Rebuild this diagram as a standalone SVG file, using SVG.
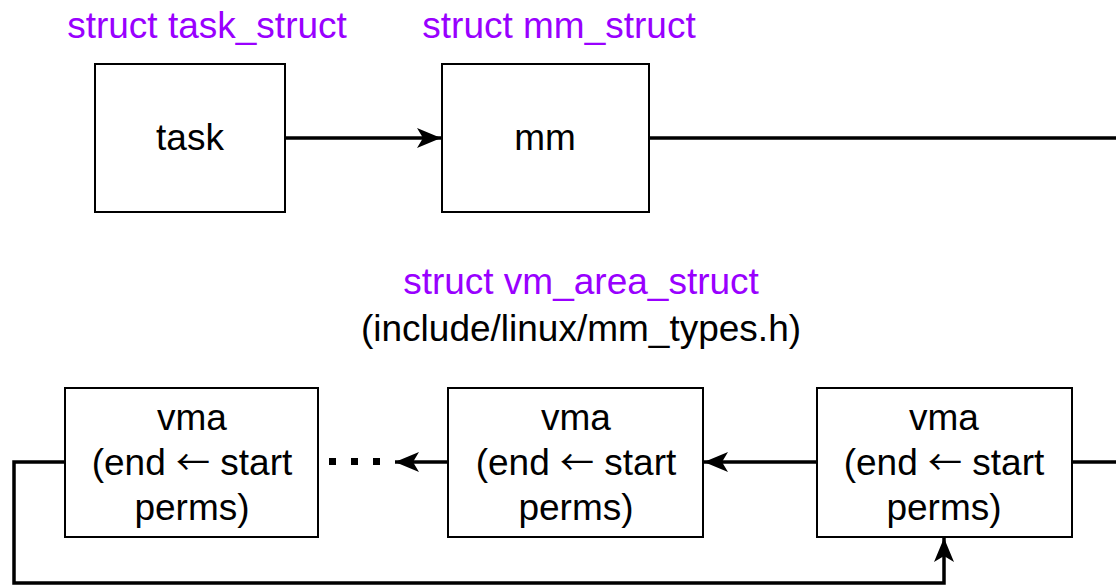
<svg xmlns="http://www.w3.org/2000/svg" width="1116" height="586" viewBox="0 0 1116 586">
<style>
.box{fill:#fff;stroke:#000;stroke-width:2}
.t{font-family:"Liberation Sans",Arial,sans-serif;font-size:37px;fill:#000;text-anchor:middle}
.a{font-family:"Noto Sans CJK SC","DejaVu Sans",sans-serif;font-size:34px}
.p{fill:#9900ff}
.c{fill:none;stroke:#000;stroke-width:3.5}
</style>
<defs>
<marker id="ah" markerUnits="userSpaceOnUse" markerWidth="26" markerHeight="22" refX="24" refY="11" orient="auto">
<path d="M0,1 L24,11 L0,21 L6,11 Z" fill="#000"/>
</marker>
</defs>
<text class="t p" x="207" y="38">struct task_struct</text>
<text class="t p" x="559" y="38">struct mm_struct</text>
<text class="t p" x="581" y="294">struct vm_area_struct</text>
<text class="t" x="581" y="341">(include/linux/mm_types.h)</text>
<g id="connectors">
<line class="c" x1="285" y1="138" x2="441" y2="138" marker-end="url(#ah)"/>
<line class="c" x1="649" y1="138" x2="1116" y2="138"/>
<line class="c" x1="1072" y1="462" x2="1116" y2="462"/>
<line class="c" x1="817" y1="462" x2="704" y2="462" marker-end="url(#ah)"/>
<line class="c" x1="448" y1="462" x2="395" y2="462" marker-end="url(#ah)"/>
<polyline class="c" points="65,462 14,462 14,583 944,583 944,538" marker-end="url(#ah)"/>
<rect x="329" y="458" width="7" height="7" fill="#000"/>
<rect x="351" y="458" width="7" height="7" fill="#000"/>
<rect x="373" y="458" width="7" height="7" fill="#000"/>
</g>
<g id="task">
<rect class="box" x="95" y="64" width="190" height="148"/>
<text class="t" x="190" y="150">task</text>
</g>
<g id="mm">
<rect class="box" x="442" y="64" width="207" height="148"/>
<text class="t" x="545" y="150">mm</text>
</g>
<g id="vma1">
<rect class="box" x="65" y="388" width="253" height="149"/>
<text class="t" x="192" y="430">vma</text>
<text class="t" x="192" y="475">(end <tspan class="a">←</tspan> start</text>
<text class="t" x="192" y="520">perms)</text>
</g>
<g id="vma2">
<rect class="box" x="448" y="388" width="255" height="149"/>
<text class="t" x="576" y="430">vma</text>
<text class="t" x="576" y="475">(end <tspan class="a">←</tspan> start</text>
<text class="t" x="576" y="520">perms)</text>
</g>
<g id="vma3">
<rect class="box" x="817" y="388" width="255" height="149"/>
<text class="t" x="944" y="430">vma</text>
<text class="t" x="944" y="475">(end <tspan class="a">←</tspan> start</text>
<text class="t" x="944" y="520">perms)</text>
</g>
</svg>
